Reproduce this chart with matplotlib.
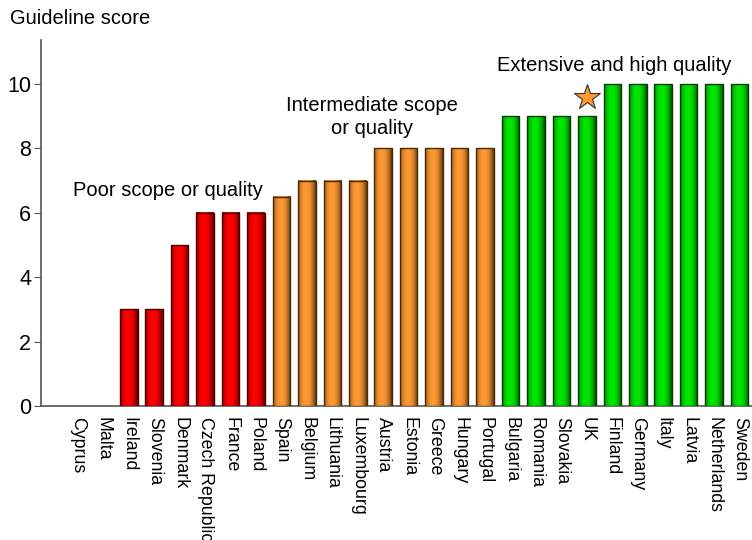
import numpy as np
import matplotlib
matplotlib.use("Agg")
import matplotlib.pyplot as plt
from matplotlib.colors import LinearSegmentedColormap, to_rgb

plt.rcParams['font.family'] = ['Liberation Sans', 'DejaVu Sans']

countries = ["Cyprus", "Malta", "Ireland", "Slovenia", "Denmark", "Czech Republic",
             "France", "Poland", "Spain", "Belgium", "Lithuania", "Luxembourg",
             "Austria", "Estonia", "Greece", "Hungary", "Portugal", "Bulgaria",
             "Romania", "Slovakia", "UK", "Finland", "Germany", "Italy", "Latvia",
             "Netherlands", "Sweden"]
scores = [0, 0, 3, 3, 5, 6, 6, 6, 6.5, 7, 7, 7, 8, 8, 8, 8, 8, 9, 9, 9, 9,
          10, 10, 10, 10, 10, 10]
groups = ["poor"] * 8 + ["mid"] * 9 + ["high"] * 10
group_colors = {"poor": "#ff0000", "mid": "#ff9933", "high": "#00e600"}
group_edges = {"poor": "#4a0000", "mid": "#4a2a00", "high": "#0a3a0a"}
star_country = "UK"
star_value = 9.6

fig = plt.figure(figsize=(7.52, 5.4), dpi=100)
ax = fig.add_axes([41/752, 1 - 406/540, 1 - 41/752, (406 - 40)/540])

x = np.arange(len(countries))
bars = ax.bar(x, scores, width=0.69, color="none", edgecolor="none", zorder=3)

grad = np.linspace(0, 1, 64)
prof = np.clip(1 - np.abs((grad - 0.45) / 0.55) ** 2.2, 0, 1)
for b, g, s in zip(bars, groups, scores):
    if s <= 0:
        continue
    base = np.array(to_rgb(group_colors[g]))
    dark = base * 0.35
    cmap = LinearSegmentedColormap.from_list("c", [dark, base])
    bx, bw, bh = b.get_x(), b.get_width(), b.get_height()
    ax.imshow(prof[np.newaxis, :], cmap=cmap, vmin=0, vmax=1, aspect="auto",
              extent=(bx, bx + bw, 0, bh), zorder=3, interpolation="bicubic")
    ax.add_patch(plt.Rectangle((bx, 0), bw, bh, fill=False,
                               edgecolor=group_edges[g], lw=1.0, zorder=4))

ax.set_xlim(-1.45, len(countries) - 0.51)
ax.set_ylim(0, 11.37)
ax.set_yticks([0, 2, 4, 6, 8, 10])
ax.tick_params(axis='y', labelsize=15.5, length=5, pad=2, direction='out', color='#555555')
ax.set_xticks(x)
ax.set_xticklabels(countries, rotation=270, fontsize=12.8, va='top', ha='center')
ax.tick_params(axis='x', length=0, pad=8)
for sp in ["top", "right"]:
    ax.spines[sp].set_visible(False)
for sp in ["left", "bottom"]:
    ax.spines[sp].set_color('#555555')
    ax.spines[sp].set_linewidth(1.2)

si = countries.index(star_country)
ax.plot([si], [star_value], marker="*", markersize=19, color="#ff9933",
        markeredgecolor="#333333", markeredgewidth=0.8, zorder=5, linestyle="none")

ax.text(3.52, 6.68, "Poor scope or quality", fontsize=14.5, ha="center", va="center")
ax.text(11.56, 8.98, "Intermediate scope\nor quality", fontsize=14.5, ha="center",
        va="center", linespacing=1.3)
ax.text(21.09, 10.59, "Extensive and high quality", fontsize=14.5, ha="center", va="center")
fig.text(10/752, 1 - 18/540, "Guideline score", fontsize=14.5, ha="left", va="center")

fig.savefig("out.png", dpi=100)
